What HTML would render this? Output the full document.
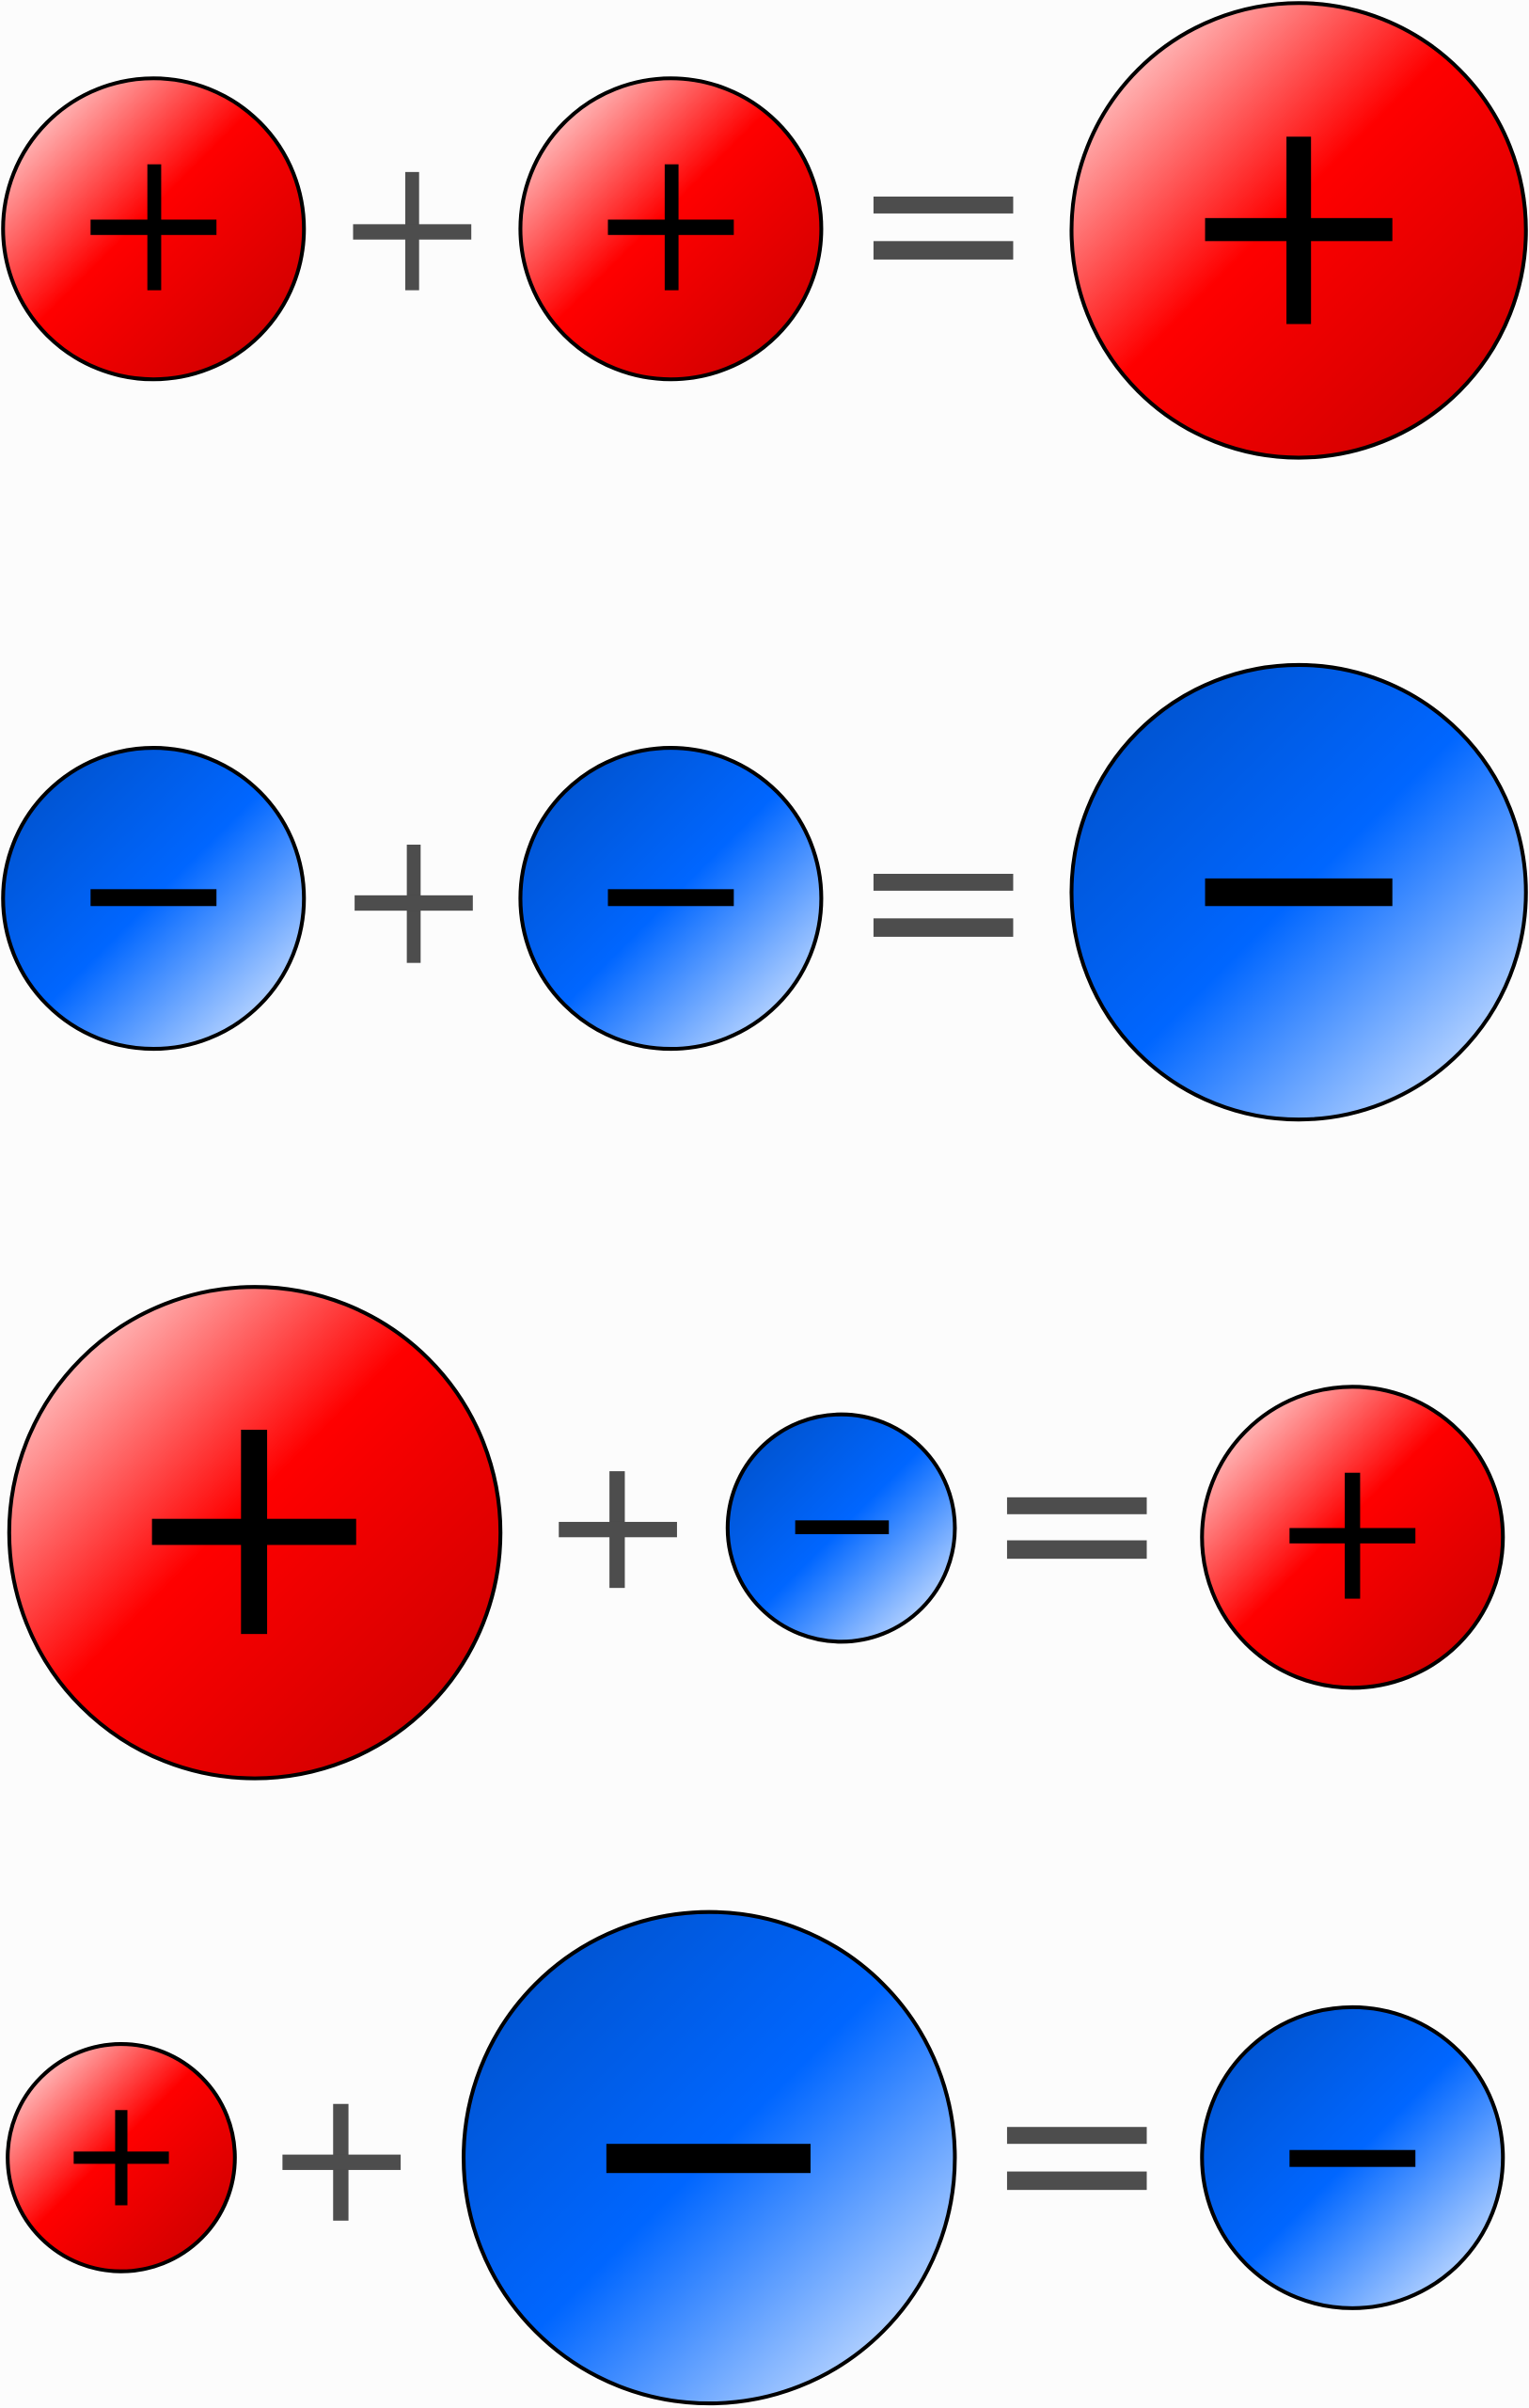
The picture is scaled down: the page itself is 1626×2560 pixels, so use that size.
<!DOCTYPE html>
<html><head><meta charset="utf-8"><style>
html,body{margin:0;padding:0;background:#fcfcfc;}
svg{display:block;}
</style></head><body>
<svg width="1626" height="2560" viewBox="0 0 996 1568" preserveAspectRatio="none" xmlns="http://www.w3.org/2000/svg">
<defs>
<linearGradient id="r" x1="0.15" y1="0.15" x2="0.85" y2="0.85">
<stop offset="0" stop-color="#ffb0b0"/>
<stop offset="0.45" stop-color="#ff0000"/>
<stop offset="1" stop-color="#d40000"/>
</linearGradient>
<linearGradient id="b" x1="0.15" y1="0.15" x2="0.85" y2="0.85">
<stop offset="0" stop-color="#0055d4"/>
<stop offset="0.5" stop-color="#0066ff"/>
<stop offset="1" stop-color="#aaccff"/>
</linearGradient>
</defs>
<rect width="996" height="1568" fill="#fcfcfc"/>
<g stroke="#000" stroke-width="2.5">
<circle cx="100" cy="149" r="98" fill="url(#r)"/>
<circle cx="437" cy="149" r="98" fill="url(#r)"/>
<circle cx="846" cy="150" r="148" fill="url(#r)"/>
<circle cx="100" cy="585" r="98" fill="url(#b)"/>
<circle cx="437" cy="585" r="98" fill="url(#b)"/>
<circle cx="846" cy="581" r="148" fill="url(#b)"/>
<circle cx="166" cy="998" r="160" fill="url(#r)"/>
<circle cx="548" cy="995" r="74" fill="url(#b)"/>
<circle cx="881" cy="1001" r="98" fill="url(#r)"/>
<circle cx="79" cy="1405" r="74" fill="url(#r)"/>
<circle cx="462" cy="1405" r="160" fill="url(#b)"/>
<circle cx="881" cy="1405" r="98" fill="url(#b)"/>
</g>
<g fill="#000">
<rect x="96" y="107" width="9" height="82"/><rect x="59" y="143" width="82" height="10"/>
<rect x="433" y="107" width="9" height="82"/><rect x="396" y="143" width="82" height="10"/>
<rect x="838" y="89" width="16" height="122"/><rect x="785" y="142" width="122" height="15"/>
<rect x="59" y="579" width="82" height="11"/>
<rect x="396" y="579" width="82" height="11"/>
<rect x="785" y="572" width="122" height="18"/>
<rect x="157" y="931" width="17" height="133"/><rect x="99" y="989" width="133" height="17"/>
<rect x="518" y="990" width="61" height="9"/>
<rect x="876" y="959" width="10" height="82"/><rect x="840" y="995" width="82" height="10"/>
<rect x="75" y="1374" width="8" height="62"/><rect x="48" y="1401" width="62" height="8"/>
<rect x="395" y="1396" width="133" height="19"/>
<rect x="840" y="1400" width="82" height="11"/>
</g>
<g fill="#4d4d4d">
<rect x="264" y="112" width="9" height="77"/><rect x="230" y="146" width="77" height="10"/>
<rect x="569" y="128" width="91" height="11"/><rect x="569" y="157" width="91" height="12"/>
<rect x="265" y="550" width="9" height="77"/><rect x="231" y="583" width="77" height="10"/>
<rect x="569" y="569" width="91" height="11"/><rect x="569" y="598" width="91" height="12"/>
<rect x="397" y="958" width="10" height="76"/><rect x="364" y="991" width="77" height="10"/>
<rect x="656" y="975" width="91" height="11"/><rect x="656" y="1003" width="91" height="12"/>
<rect x="217" y="1370" width="10" height="76"/><rect x="184" y="1403" width="77" height="10"/>
<rect x="656" y="1385" width="91" height="11"/><rect x="656" y="1414" width="91" height="12"/>
</g>
</svg>
</body></html>
